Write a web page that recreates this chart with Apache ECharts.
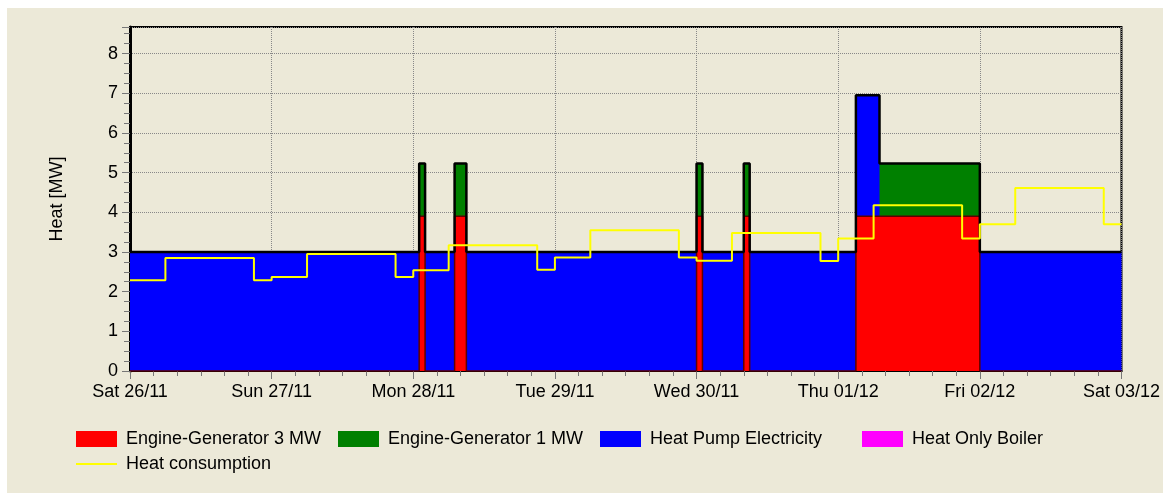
<!DOCTYPE html>
<html>
<head>
<meta charset="utf-8">
<script src="https://cdn.jsdelivr.net/npm/echarts@6/dist/echarts.min.js"></script>
<style>
  html, body { margin: 0; padding: 0; background: #fff; }
  #main { position: absolute; left: 7px; top: 8px; width: 1156px; height: 485px; }
</style>
</head>
<body>
<div id="main"></div>
<script>
// tick labels of the x axis, one per day (24 h)
var dayLabels = ['Sat 26/11', 'Sun 27/11', 'Mon 28/11', 'Tue 29/11', 'Wed 30/11', 'Thu 01/12', 'Fri 02/12', 'Sat 03/12'];

// production, hour since Sat 26/11 00:00 -> value held until next hour in list
var prodHours   = [0, 49, 50, 55, 57, 96, 97, 104, 105, 123, 127, 144, 168];
var engine3MW   = [0, 3.9, 0, 3.9, 0, 3.9, 0, 3.9, 0, 3.9, 3.9, 0, 0];
var engine1MW   = [0, 1.33, 0, 1.33, 0, 1.33, 0, 1.33, 0, 0, 1.33, 0, 0];
var heatPump    = [3, 0, 3, 0, 3, 0, 3, 0, 3, 3.05, 0, 3, 3];
var heatBoiler  = [];

// heat consumption steps
var consHours = [0, 6, 21, 24, 30, 45, 48, 54, 69, 72, 78, 93, 96, 102, 117, 120, 126, 141, 144, 150, 165, 168];
var consumption = [2.29, 2.85, 2.29, 2.37, 2.95, 2.37, 2.54, 3.17, 2.55, 2.86, 3.55, 2.86, 2.78, 3.48, 2.77, 3.34, 4.18, 3.34, 3.70, 4.61, 3.70, 3.70];

function pairs(xs, ys) {
    var out = [];
    for (var i = 0; i < ys.length; i++) out.push([xs[i], ys[i]]);
    return out;
}

// stacked tops (echarts would stack the x dim on a value/value grid, so sum here)
var redTop = [], greenTop = [], blueTop = [];
for (var i = 0; i < prodHours.length; i++) {
    redTop.push(engine3MW[i]);
    greenTop.push(+(engine3MW[i] + engine1MW[i]).toFixed(3));
    blueTop.push(+(engine3MW[i] + engine1MW[i] + heatPump[i]).toFixed(3));
}

var FONT = 'Liberation Sans';
var myChart = echarts.init(document.getElementById('main'));

var option = {
    animation: false,
    backgroundColor: '#ECE9D8',
    textStyle: { fontFamily: FONT },
    grid: {
        left: 123, right: 37, top: 19, bottom: 122,
        show: true, backgroundColor: '#ECE9D8', borderColor: '#000', borderWidth: 2
    },
    legend: {
        left: 63, top: 416, width: 1070,
        selectedMode: false,
        itemWidth: 41, itemHeight: 16, itemGap: 5,
        itemStyle: { borderWidth: 0 },
        textStyle: { fontFamily: FONT, fontSize: 18, color: '#000', width: 207, lineHeight: 20, padding: [0, 0, 0, 4] },
        data: [
            { name: 'Engine-Generator 3 MW', icon: 'rect' },
            { name: 'Engine-Generator 1 MW', icon: 'rect' },
            { name: 'Heat Pump Electricity', icon: 'rect' },
            { name: 'Heat Only Boiler', icon: 'rect' },
            { name: 'Heat consumption', itemStyle: { opacity: 0 } }
        ]
    },
    xAxis: {
        type: 'value', min: 0, max: 168, interval: 24,
        axisLine: { lineStyle: { color: '#000', width: 2 } },
        axisTick: { length: 8, lineStyle: { color: '#777' } },
        minorTick: { show: true, splitNumber: 6, length: 5, lineStyle: { color: '#777' } },
        splitLine: { show: true, lineStyle: { color: '#888', type: 'dotted' } },
        axisLabel: {
            margin: 12, fontSize: 18, color: '#000', fontFamily: FONT,
            formatter: function (v) { return dayLabels[Math.round(v / 24)]; }
        }
    },
    yAxis: {
        type: 'value', min: 0, max: 8.67, interval: 1,
        name: 'Heat [MW]', nameLocation: 'middle', nameGap: 64,
        nameTextStyle: { fontSize: 18, color: '#000', fontFamily: FONT },
        axisLine: { show: true, lineStyle: { color: '#000', width: 3 } },
        axisTick: { show: true, length: 8, lineStyle: { color: '#777' } },
        minorTick: { show: true, splitNumber: 4, length: 6, lineStyle: { color: '#777' } },
        splitLine: { show: true, lineStyle: { color: '#888', type: 'dotted' } },
        axisLabel: {
            margin: 12, fontSize: 18, color: '#000', fontFamily: FONT,
            formatter: function (v) { return Math.abs(v - Math.round(v)) < 1e-6 ? String(Math.round(v)) : ''; }
        }
    },
    series: [
        {
            name: 'Heat Pump Electricity', type: 'line', step: 'end',
            symbol: 'none', data: pairs(prodHours, blueTop),
            itemStyle: { color: '#0000FF' },
            lineStyle: { width: 0 },
            areaStyle: { color: '#0000FF', opacity: 1 }
        },
        {
            name: 'Engine-Generator 1 MW', type: 'line', step: 'end',
            symbol: 'none', data: pairs(prodHours, greenTop),
            itemStyle: { color: '#008000' },
            lineStyle: { width: 0 },
            areaStyle: { color: '#008000', opacity: 1 }
        },
        {
            name: 'Engine-Generator 3 MW', type: 'line', step: 'end',
            symbol: 'none', data: pairs(prodHours, redTop),
            itemStyle: { color: '#FF0000' },
            lineStyle: { color: '#600000', width: 1.5 },
            areaStyle: { color: '#FF0000', opacity: 1 }
        },
        {
            name: 'Heat Only Boiler', type: 'line', step: 'end',
            symbol: 'none', data: heatBoiler,
            itemStyle: { color: '#FF00FF' },
            lineStyle: { width: 0 },
            areaStyle: { color: '#FF00FF', opacity: 1 }
        },
        {
            // black outline of the stacked total
            name: 'total', type: 'line', step: 'end',
            symbol: 'none', data: pairs(prodHours, blueTop),
            lineStyle: { color: '#000', width: 2.5 },
            silent: true
        },
        {
            name: 'Heat consumption', type: 'line', step: 'end',
            symbol: 'none', data: pairs(consHours, consumption),
            itemStyle: { color: '#FFFF00' },
            lineStyle: { color: '#FFFF00', width: 2 },
            z: 5
        }
    ]
};

myChart.setOption(option);
</script>
</body>
</html>
